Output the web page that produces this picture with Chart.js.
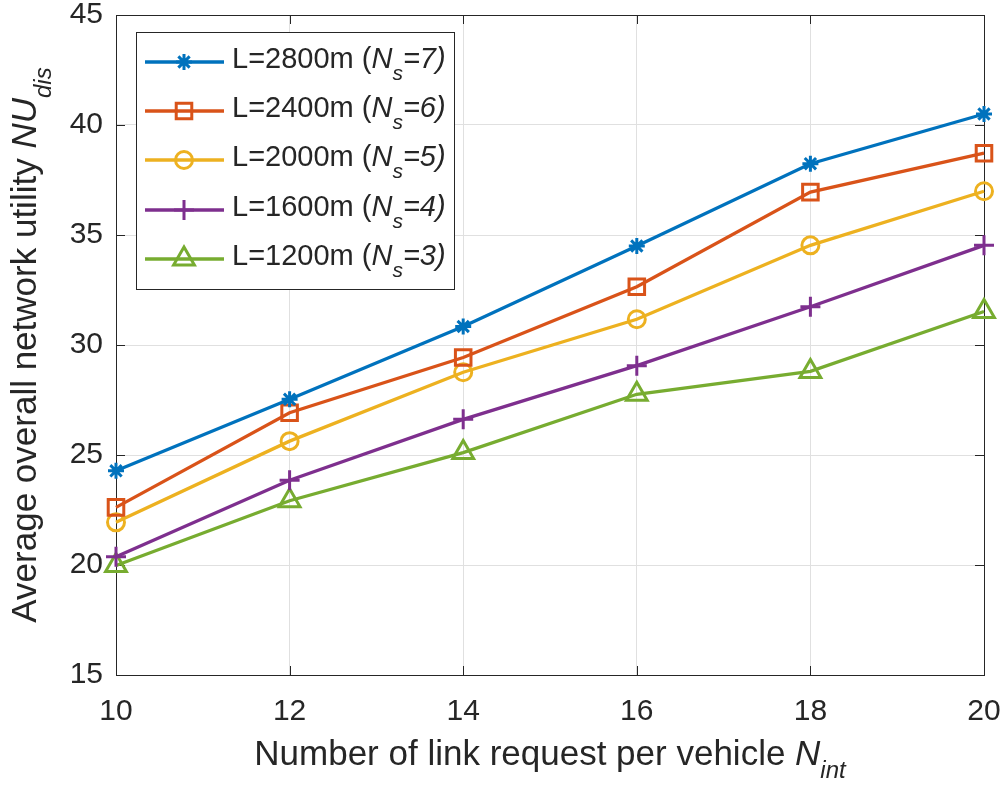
<!DOCTYPE html>
<html><head><meta charset="utf-8">
<script src="https://cdn.jsdelivr.net/npm/chart.js@4.4.0/dist/chart.umd.min.js"></script>
<style>html,body{margin:0;padding:0;background:#fff}canvas{display:block}</style>
</head><body>
<canvas id="c" width="1005" height="789"></canvas>
<script>
// ---- data ----
const xValues = [10, 12, 14, 16, 18, 20];
const seriesL2800 = [24.28, 27.53, 30.84, 34.50, 38.24, 40.50];
const seriesL2400 = [22.62, 26.92, 29.43, 32.65, 36.95, 38.72];
const seriesL2000 = [21.94, 25.63, 28.76, 31.17, 34.53, 36.99];
const seriesL1600 = [20.38, 23.85, 26.62, 29.06, 31.74, 34.53];
const seriesL1200 = [19.98, 22.92, 25.11, 27.76, 28.80, 31.52];
const seriesNames = ['L=2800m', 'L=2400m', 'L=2000m', 'L=1600m', 'L=1200m'];
const nsValues = ['7', '6', '5', '4', '3'];
const xTicks = [10, 12, 14, 16, 18, 20];
const yTicks = [15, 20, 25, 30, 35, 40, 45];
const xTitleMain = 'Number of link request per vehicle ';
const xTitleVar = 'N';
const xTitleSub = 'int';
const yTitleMain = 'Average overall network utility ';
const yTitleVar = 'NU';
const yTitleSub = 'dis';

// ---- styles ----
const FONT = 'Arial, "Liberation Sans", Helvetica, sans-serif';
const colors = ['#0072BD', '#D95319', '#EDB120', '#7E2F8E', '#77AC30'];
const pStyles = ['star', 'rect', 'circle', 'cross', 'triangle'];
const pRadius = [8, 11, 8.5, 10, 12];
const allSeries = [seriesL2800, seriesL2400, seriesL2000, seriesL1600, seriesL1200];
const AXC = '#262626';
const LW = 3.3;
const MW = 3;

const datasets = allSeries.map((s, i) => ({
  label: seriesNames[i],
  data: xValues.map((x, j) => ({x: x, y: s[j]})),
  borderColor: colors[i],
  backgroundColor: 'rgba(0,0,0,0)',
  borderWidth: LW,
  pointStyle: pStyles[i],
  pointRadius: pRadius[i],
  pointBorderWidth: MW,
  pointBorderColor: colors[i],
  pointBackgroundColor: 'rgba(0,0,0,0)',
  tension: 0,
  clip: false
}));

function drawRich(ctx, segs, x, y, align) {
  let total = 0;
  segs.forEach(s => { ctx.font = (s.italic ? 'italic ' : '') + s.size + 'px ' + FONT; s.w = ctx.measureText(s.t).width; total += s.w; });
  let cx = align === 'center' ? x - total / 2 : x;
  ctx.textAlign = 'left';
  ctx.textBaseline = 'alphabetic';
  segs.forEach(s => { ctx.font = (s.italic ? 'italic ' : '') + s.size + 'px ' + FONT; ctx.fillText(s.t, cx, y + (s.dy || 0)); cx += s.w; });
}

const decor = {
  id: 'decor',
  beforeDatasetsDraw(chart) {
    const ctx = chart.ctx, a = chart.chartArea;
    const xs = chart.scales.x, ys = chart.scales.y;
    ctx.save();
    ctx.strokeStyle = AXC; ctx.lineWidth = 1;
    ctx.strokeRect(Math.round(a.left) + 0.5, Math.round(a.top) + 0.5, Math.round(a.right - a.left), Math.round(a.bottom - a.top));
    const tl = 9;
    ctx.beginPath();
    xTicks.forEach(v => {
      const px = Math.round(xs.getPixelForValue(v)) + 0.5;
      ctx.moveTo(px, a.bottom); ctx.lineTo(px, a.bottom - tl);
      ctx.moveTo(px, a.top); ctx.lineTo(px, a.top + tl);
    });
    yTicks.forEach(v => {
      const py = Math.round(ys.getPixelForValue(v)) + 0.5;
      ctx.moveTo(a.left, py); ctx.lineTo(a.left + tl, py);
      ctx.moveTo(a.right, py); ctx.lineTo(a.right - tl, py);
    });
    ctx.stroke();
    ctx.restore();
  },
  afterDraw(chart) {
    const ctx = chart.ctx, a = chart.chartArea;
    ctx.save();
    ctx.fillStyle = AXC;
    drawRich(ctx, [
      {t: xTitleMain, size: 35},
      {t: xTitleVar, size: 35, italic: true},
      {t: xTitleSub, size: 24, italic: true, dy: 13}
    ], (a.left + a.right) / 2, 765, 'center');
    ctx.save();
    ctx.translate(36, (a.top + a.bottom) / 2);
    ctx.rotate(-Math.PI / 2);
    drawRich(ctx, [
      {t: yTitleMain, size: 35},
      {t: yTitleVar, size: 35, italic: true},
      {t: yTitleSub, size: 24, italic: true, dy: 15}
    ], 0, 0, 'center');
    ctx.restore();
    // legend
    const bx = 136.5, by = 32.5, bw = 318, bh = 257;
    ctx.fillStyle = '#ffffff';
    ctx.fillRect(bx, by, bw, bh);
    ctx.strokeStyle = AXC; ctx.lineWidth = 1;
    ctx.strokeRect(bx, by, bw, bh);
    const rowY = [62, 111, 160, 210, 259];
    seriesNames.forEach((n, i) => {
      const y = rowY[i];
      ctx.strokeStyle = colors[i]; ctx.lineWidth = LW;
      ctx.beginPath(); ctx.moveTo(145, y); ctx.lineTo(224, y); ctx.stroke();
      ctx.lineWidth = MW;
      ctx.strokeStyle = colors[i];
      ctx.fillStyle = 'rgba(0,0,0,0)';
      Chart.helpers.drawPoint(ctx, {pointStyle: pStyles[i], rotation: 0, borderWidth: MW, radius: pRadius[i]}, 184, y);
      ctx.fillStyle = AXC;
      drawRich(ctx, [
        {t: n + ' (', size: 29},
        {t: 'N', size: 29, italic: true},
        {t: 's', size: 21, italic: true, dy: 12},
        {t: '=' + nsValues[i] + ')', size: 29, italic: true}
      ], 232, y + 6, 'left');
    });
    ctx.restore();
  }
};

new Chart(document.getElementById('c'), {
  type: 'line',
  data: {datasets: datasets},
  options: {
    responsive: false,
    animation: false,
    devicePixelRatio: 1,
    layout: {padding: {top: 12, right: 21, left: 0, bottom: 0}},
    plugins: {legend: {display: false}, tooltip: {enabled: false}},
    scales: {
      x: {
        type: 'linear', min: 10, max: 20,
        afterBuildTicks(s) { s.ticks = xTicks.map(v => ({value: v})); },
        ticks: {font: {size: 30, family: FONT}, color: AXC, padding: 19},
        grid: {color: '#e0e0e0', lineWidth: 1, drawTicks: false},
        border: {display: false},
        afterFit(s) { s.height = 114; s.paddingLeft = 0; s.paddingRight = 0; }
      },
      y: {
        type: 'linear', min: 15, max: 45,
        afterBuildTicks(s) { s.ticks = yTicks.map(v => ({value: v})); },
        ticks: {font: {size: 30, family: FONT}, color: AXC, padding: 13},
        grid: {color: '#e0e0e0', lineWidth: 1, drawTicks: false},
        border: {display: false},
        afterFit(s) { s.width = 116; s.paddingTop = 0; s.paddingBottom = 0; }
      }
    }
  },
  plugins: [decor]
});
</script>
</body></html>
